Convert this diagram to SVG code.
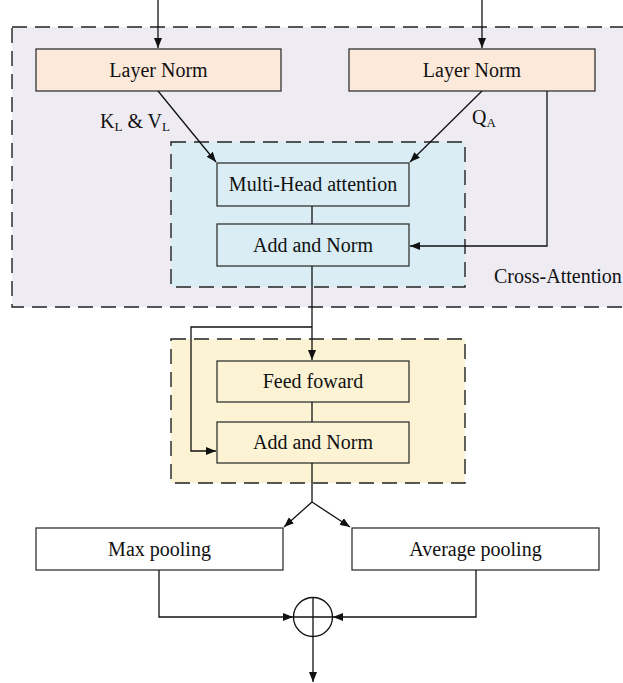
<svg xmlns="http://www.w3.org/2000/svg" width="623" height="683" viewBox="0 0 623 683">
  <defs>
    <marker id="arrow" markerWidth="10" markerHeight="8" refX="10" refY="4" orient="auto" markerUnits="userSpaceOnUse">
      <path d="M0,0 L10,4 L0,8 z" fill="#111"/>
    </marker>
    <style>
      .region { stroke: #222; stroke-width: 1.4; stroke-dasharray: 15 8; }
      .box { stroke: #333; stroke-width: 1.3; }
      .wire { fill: none; stroke: #111; stroke-width: 1.3; }
      text { font-family: "Liberation Serif", "Times New Roman", serif; font-size: 20px; fill: #111; }
      .c { text-anchor: middle; }
      .sub { font-size: 13px; }
    </style>
  </defs>

  <rect width="623" height="683" fill="#ffffff"/>

  <!-- grouping regions -->
  <g id="cross-attention">
    <rect class="region" x="12" y="27" width="625" height="280" fill="#EEEBF3"/>
    <text x="494" y="283">Cross-Attention</text>
  </g>
  <rect id="attention-region" class="region" x="171" y="142" width="294" height="145" fill="#DAEDF4"/>
  <rect id="ffn-region" class="region" x="171" y="339" width="294" height="144" fill="#FCF3D4"/>

  <!-- nodes -->
  <g id="layer-norm-left">
    <rect class="box" x="36" y="49" width="245" height="42" fill="#FDE9DA"/>
    <text class="c" x="158.5" y="77">Layer Norm</text>
  </g>
  <g id="layer-norm-right">
    <rect class="box" x="349" y="49" width="246" height="42" fill="#FDE9DA"/>
    <text class="c" x="472" y="77">Layer Norm</text>
  </g>
  <g id="multi-head-attention">
    <rect class="box" x="217" y="163" width="192" height="43" fill="#DAEDF4"/>
    <text class="c" x="313" y="191">Multi-Head attention</text>
  </g>
  <g id="add-norm-1">
    <rect class="box" x="217" y="224" width="192" height="42" fill="#DAEDF4"/>
    <text class="c" x="313" y="252">Add and Norm</text>
  </g>
  <g id="feed-forward">
    <rect class="box" x="217" y="361" width="192" height="41" fill="#FCF3D4"/>
    <text class="c" x="313" y="388">Feed foward</text>
  </g>
  <g id="add-norm-2">
    <rect class="box" x="217" y="422" width="192" height="41" fill="#FCF3D4"/>
    <text class="c" x="313" y="449">Add and Norm</text>
  </g>
  <g id="max-pooling">
    <rect class="box" x="36" y="528" width="247" height="42" fill="#ffffff"/>
    <text class="c" x="159.5" y="556">Max pooling</text>
  </g>
  <g id="average-pooling">
    <rect class="box" x="352" y="528" width="247" height="42" fill="#ffffff"/>
    <text class="c" x="475.5" y="556">Average pooling</text>
  </g>
  <g id="sum">
    <circle class="wire" cx="313" cy="617" r="19.5"/>
    <path class="wire" d="M313,597.5 V636.5 M293.5,617 H332.5"/>
  </g>

  <!-- edge labels -->
  <g id="labels">
    <text x="100" y="128">K<tspan class="sub" dy="3">L</tspan><tspan dy="-3"> &amp; V</tspan><tspan class="sub" dy="3">L</tspan></text>
    <text x="472" y="124">Q<tspan class="sub" dy="3">A</tspan></text>
  </g>

  <!-- connectors -->
  <g id="connectors">
    <path class="wire" d="M158,0 V48" marker-end="url(#arrow)"/>
    <path class="wire" d="M482,0 V48" marker-end="url(#arrow)"/>
    <path class="wire" d="M158,91 L216,162" marker-end="url(#arrow)"/>
    <path class="wire" d="M482,91 L410,162" marker-end="url(#arrow)"/>
    <path class="wire" d="M312,206 V224"/>
    <path class="wire" d="M547,91 V246 H410" marker-end="url(#arrow)"/>
    <path class="wire" d="M312,266 V360" marker-end="url(#arrow)"/>
    <path class="wire" d="M312,327 H191 V451 H216" marker-end="url(#arrow)"/>
    <path class="wire" d="M312,402 V422"/>
    <path class="wire" d="M312,463 V502"/>
    <path class="wire" d="M312,502 L284,527" marker-end="url(#arrow)"/>
    <path class="wire" d="M312,502 L350,527" marker-end="url(#arrow)"/>
    <path class="wire" d="M159,570 V617 H293" marker-end="url(#arrow)"/>
    <path class="wire" d="M476,570 V617 H333" marker-end="url(#arrow)"/>
    <path class="wire" d="M313,636.5 V682" marker-end="url(#arrow)"/>
  </g>
</svg>
